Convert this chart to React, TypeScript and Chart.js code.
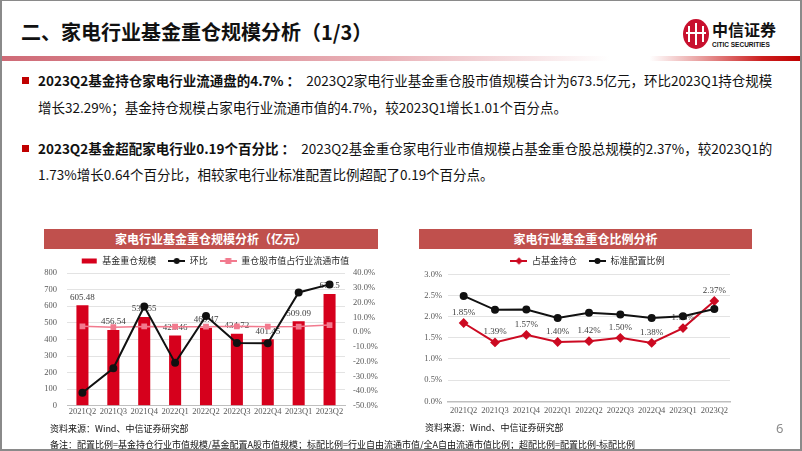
import React, { useEffect, useRef } from 'react';
import { Chart, registerables } from 'chart.js';
Chart.register(...registerables);

// ---------- data ----------
const quarters = ['2021Q2', '2021Q3', '2021Q4', '2022Q1', '2022Q2', '2022Q3', '2022Q4', '2023Q1', '2023Q2'];
const holdingScale = [605.48, 456.54, 535.55, 423.46, 469.47, 434.72, 401.45, 509.09, 673.5];
const qoqGrowth = [-41.2, -24.6, 17.3, -20.9, 10.9, -7.4, -7.65, 26.8, 32.29];
const floatShare = [3.9, 3.3, 3.8, 3.6, 3.6, 3.9, 3.6, 3.69, 4.7];
const fundShare = [1.85, 1.39, 1.57, 1.4, 1.42, 1.5, 1.38, 1.73, 2.37];
const benchmarkShare = [2.49, 2.16, 2.17, 1.97, 2.09, 2.05, 1.97, 2.01, 2.18];

const leftLegend = ['基金重仓规模', '环比', '重仓股市值占行业流通市值'];
const rightLegend = ['占基金持仓', '标准配置比例'];

// ---------- styles ----------
const BAR_RED = '#D6001C';
const PINK = '#F27A8E';
const BLACK = '#111111';
const LINE_RED = '#CC0A22';
const HEADER = '#C0504D';
const SERIF = '"Liberation Serif", "Times New Roman", serif';
const SANS = '"Noto Sans CJK SC", "Noto Sans", sans-serif';
const BODY = '"Liberation Sans Narrow", "Noto Sans CJK SC", sans-serif';

function makeIcon(kind: string, color: string) {
  const w = 17, h = 8;
  const c = document.createElement('canvas');
  c.width = w; c.height = h;
  const g = c.getContext('2d') as CanvasRenderingContext2D;
  g.fillStyle = color; g.strokeStyle = color;
  if (kind === 'bar') { g.fillRect(1, 1.5, 15, 5); return c; }
  g.lineWidth = 2;
  g.beginPath(); g.moveTo(0, 4); g.lineTo(w, 4); g.stroke();
  if (kind === 'circle') { g.beginPath(); g.arc(8.5, 4, 3, 0, Math.PI * 2); g.fill(); }
  if (kind === 'square') { g.fillRect(5.5, 1, 6, 6); }
  if (kind === 'diamond') { g.beginPath(); g.moveTo(8.5, 0.3); g.lineTo(12, 4); g.lineTo(8.5, 7.7); g.lineTo(5, 4); g.closePath(); g.fill(); }
  return c;
}

function labelPlugin(datasetIndex: number, format: (v: number) => string, offset: number) {
  return {
    id: 'valueLabels' + datasetIndex,
    afterDatasetDraw(chart: any, args: any) {
      if (args.index !== datasetIndex) return;
      const ctx = chart.ctx;
      const ds = chart.data.datasets[datasetIndex];
      ctx.save();
      ctx.font = `9px ${SERIF}`;
      ctx.fillStyle = '#404040';
      ctx.textAlign = 'center';
      ctx.textBaseline = 'middle';
      args.meta.data.forEach((el: any, i: number) => {
        ctx.fillText(format(ds.data[i]), el.x, el.y - offset);
      });
      ctx.restore();
    },
  };
}

function legendOpts(icons: HTMLCanvasElement[], maxHeight: number) {
  return {
    display: true,
    position: 'top' as const,
    maxHeight,
    labels: {
      usePointStyle: true,
      pointStyleWidth: 17,
      padding: 12,
      color: '#262626',
      font: { family: SANS, size: 9 },
      sort: (a: any, b: any) => a.datasetIndex - b.datasetIndex,
      generateLabels: (chart: any) => {
        const items = (Chart as any).defaults.plugins.legend.labels.generateLabels(chart);
        items.forEach((it: any) => { it.pointStyle = icons[it.datasetIndex]; });
        return items;
      },
    },
  };
}

const tickFont = { family: SERIF, size: 8.5 };

function LeftChart() {
  const ref = useRef<HTMLCanvasElement>(null);
  useEffect(() => {
    const icons = [makeIcon('bar', BAR_RED), makeIcon('circle', BLACK), makeIcon('square', PINK)];
    const chart = new Chart(ref.current as HTMLCanvasElement, {
      type: 'bar',
      data: {
        labels: quarters,
        datasets: [
          {
            type: 'bar', label: leftLegend[0], data: holdingScale, backgroundColor: BAR_RED,
            yAxisID: 'y', order: 3, categoryPercentage: 1, barPercentage: 0.39,
          },
          {
            type: 'line', label: leftLegend[1], data: qoqGrowth, borderColor: BLACK, backgroundColor: BLACK,
            borderWidth: 2, pointRadius: 3, pointStyle: 'circle', yAxisID: 'y1', order: 1,
          },
          {
            type: 'line', label: leftLegend[2], data: floatShare, borderColor: PINK, backgroundColor: PINK,
            borderWidth: 1.5, pointRadius: 3, pointStyle: 'rect', yAxisID: 'y1', order: 2,
          },
        ] as any,
      },
      options: {
        responsive: false,
        animation: false,
        layout: { padding: { top: 0.5, bottom: 6, left: 0, right: 0 } },
        plugins: { legend: legendOpts(icons, 28.5) as any, tooltip: { enabled: false } },
        scales: {
          x: {
            grid: { display: false, drawTicks: false },
            border: { display: true, color: '#bfbfbf', width: 1 },
            ticks: { font: tickFont, color: '#595959', padding: 1, maxRotation: 0, autoSkip: false },
          },
          y: {
            position: 'left', min: 0, max: 800,
            ticks: { stepSize: 100, font: tickFont, color: '#595959', padding: 10 },
            grid: { color: '#e3e3e3', drawTicks: false },
            border: { display: false },
            afterFit: (s: any) => { s.width = 27; },
          },
          y1: {
            position: 'right', min: -50, max: 40,
            ticks: { stepSize: 10, font: tickFont, color: '#595959', padding: 8, callback: (v: any) => Number(v).toFixed(1) + '%' },
            grid: { display: false, drawTicks: false },
            border: { display: false },
            afterFit: (s: any) => { s.width = 45; },
          },
        } as any,
      },
      plugins: [labelPlugin(0, (v) => String(v), 8)],
    });
    return () => chart.destroy();
  }, []);
  return <canvas ref={ref} width={350} height={180} style={{ position: 'absolute', left: 40, top: 244, width: 350, height: 180 }} />;
}

function RightChart() {
  const ref = useRef<HTMLCanvasElement>(null);
  useEffect(() => {
    const icons = [makeIcon('diamond', LINE_RED), makeIcon('circle', BLACK)];
    const chart = new Chart(ref.current as HTMLCanvasElement, {
      type: 'line',
      data: {
        labels: quarters,
        datasets: [
          {
            label: rightLegend[0], data: fundShare, borderColor: LINE_RED, backgroundColor: LINE_RED,
            borderWidth: 2, pointRadius: 3.5, pointStyle: 'rectRot', order: 2,
          },
          {
            label: rightLegend[1], data: benchmarkShare, borderColor: BLACK, backgroundColor: BLACK,
            borderWidth: 2, pointRadius: 3, pointStyle: 'circle', order: 1,
          },
        ],
      },
      options: {
        responsive: false,
        animation: false,
        layout: { padding: { top: 0.5, bottom: 4.5, left: 0, right: 0 } },
        plugins: { legend: legendOpts(icons, 29.8) as any, tooltip: { enabled: false } },
        scales: {
          x: {
            offset: true,
            grid: { display: false, drawTicks: false },
            border: { display: true, color: '#bfbfbf', width: 1.5 },
            ticks: { font: tickFont, color: '#595959', padding: 4, maxRotation: 0, autoSkip: false },
          },
          y: {
            position: 'left', min: 0, max: 3,
            ticks: { stepSize: 0.5, font: tickFont, color: '#595959', padding: 6, callback: (v: any) => Number(v).toFixed(1) + '%' },
            grid: { color: '#e3e3e3', drawTicks: false },
            border: { display: false },
            afterFit: (s: any) => { s.width = 38; },
          },
          yPad: {
            position: 'right', min: 0, max: 1, display: true,
            ticks: { display: false },
            grid: { display: false, drawTicks: false },
            border: { display: false },
            afterFit: (s: any) => { s.width = 35; },
          },
        } as any,
      },
      plugins: [labelPlugin(0, (v) => v.toFixed(2) + '%', 10.5)],
    });
    return () => chart.destroy();
  }, []);
  return <canvas ref={ref} width={355} height={180} style={{ position: 'absolute', left: 410, top: 244, width: 355, height: 180 }} />;
}

function Line({ x, y, size, children, bold, color, family }: any) {
  const lh = Math.round(size * 1.4);
  return (
    <div style={{
      position: 'absolute', left: x, top: y - lh / 2, height: lh, lineHeight: lh + 'px',
      fontSize: size, fontWeight: bold ? 700 : 400, color: color || '#111', whiteSpace: 'nowrap',
      fontFamily: family || SANS,
    }}>{children}</div>
  );
}

function Bullet({ y }: { y: number }) {
  return <div style={{ position: 'absolute', left: 22, top: y - 3.5, width: 7, height: 7, background: '#C00000' }} />;
}

export default function App() {
  return (
    <div style={{ position: 'fixed', left: 0, top: 0, width: 802, height: 451, background: '#fff', overflow: 'hidden', fontFamily: SANS }}>
      {/* title */}
      <Line x={21} y={32} size={20} bold color="#111">二、家电行业基金重仓规模分析（1/3）</Line>

      {/* logo */}
      <div style={{ position: 'absolute', left: 683, top: 19, width: 26, height: 30, borderRadius: '50%', background: '#C8102E', overflow: 'hidden' }}>
        <div style={{ position: 'absolute', left: 5, top: 7, width: 2, height: 16, background: '#fff' }} />
        <div style={{ position: 'absolute', left: 12, top: 4, width: 2, height: 22, background: '#fff' }} />
        <div style={{ position: 'absolute', left: 19, top: 7, width: 2, height: 16, background: '#fff' }} />
        <div style={{ position: 'absolute', left: 3, top: 13, width: 20, height: 2, background: '#fff' }} />
      </div>
      <Line x={712} y={29} size={16} bold color="#111">中信证券</Line>
      <Line x={712} y={44} size={6.5} bold color="#111" family='"Liberation Sans Narrow", "Liberation Sans", sans-serif'>CITIC SECURITIES</Line>

      {/* gradient rule */}
      <div style={{
        position: 'absolute', left: 0, top: 56, width: 802, height: 5,
        background: 'linear-gradient(to right, #cf6a76 0%, #dc8f98 25%, #eab3b9 48%, #f7e3e5 66%, #ffffff 76%, #ffffff 81%, #eaa5a5 87%, #cc2020 95%, #c00000 100%)',
      }} />

      {/* bullets */}
      <Bullet y={80} />
      <Line x={38} y={80} size={13.5} family={BODY}><b>2023Q2基金持仓家电行业流通盘的4.7%</b><b> ：</b>{'\u00a0\u00a0'}2023Q2家电行业基金重仓股市值规模合计为673.5亿元，环比2023Q1持仓规模</Line>
      <Line x={38} y={107} size={13.5} family={BODY}>增长32.29%；基金持仓规模占家电行业流通市值的4.7%，较2023Q1增长1.01个百分点。</Line>
      <Bullet y={148} />
      <Line x={38} y={148} size={13.5} family={BODY}><b>2023Q2基金超配家电行业0.19个百分比</b><b> ：</b>{'\u00a0\u00a0'}2023Q2基金重仓家电行业市值规模占基金重仓股总规模的2.37%，较2023Q1的</Line>
      <Line x={38} y={174} size={13.5} family={BODY}>1.73%增长0.64个百分比，相较家电行业标准配置比例超配了0.19个百分点。</Line>

      {/* chart headers */}
      <div style={{ position: 'absolute', left: 44, top: 229, width: 334, height: 20, background: HEADER, color: '#fff', fontWeight: 700, fontSize: 12, lineHeight: '20px', textAlign: 'center', whiteSpace: 'nowrap' }}>家电行业基金重仓规模分析（亿元）</div>
      <div style={{ position: 'absolute', left: 419, top: 229, width: 333, height: 20, background: HEADER, color: '#fff', fontWeight: 700, fontSize: 12, lineHeight: '20px', textAlign: 'center', whiteSpace: 'nowrap' }}>家电行业基金重仓比例分析</div>

      <LeftChart />
      <RightChart />

      {/* notes */}
      <Line x={50} y={428} size={9} color="#111">资料来源：Wind、中信证券研究部</Line>
      <Line x={425} y={427} size={9} color="#111">资料来源：Wind、中信证券研究部</Line>
      <Line x={50} y={444} size={9} color="#111">备注：配置比例=基金持仓行业市值规模/基金配置A股市值规模；标配比例=行业自由流通市值/全A自由流通市值比例；超配比例=配置比例-标配比例</Line>
      <Line x={776} y={428} size={13} color="#8c8c8c" family='"Noto Sans", sans-serif'>6</Line>

      {/* slide frame */}
      <div style={{ position: 'absolute', left: 0, top: 0, width: 802, height: 451, boxSizing: 'border-box', border: '2px solid #8a8a8a', borderTopWidth: 1, pointerEvents: 'none' }} />
    </div>
  );
}
